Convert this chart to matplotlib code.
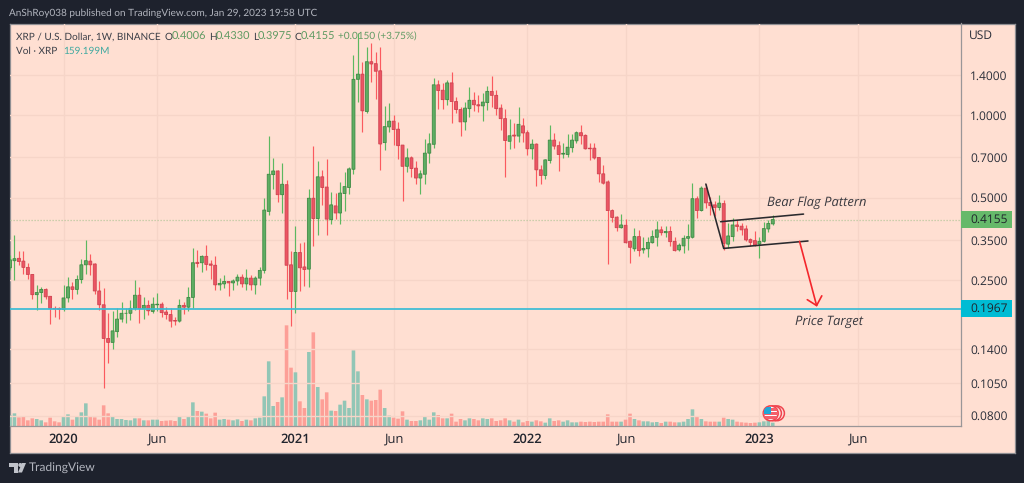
import matplotlib
matplotlib.use("Agg")
import matplotlib.pyplot as plt
from matplotlib.patches import Rectangle, Circle, Polygon
from matplotlib.transforms import IdentityTransform
import numpy as np

opens = [.277,.294,.300,.293,.278,.262,.221,.225,.231,.218,
 .197,.197,.195,.215,.236,.231,.251,.284,.293,.286,
 .228,.203,.153,.148,.162,.180,.189,.189,.197,.220,
 .197,.202,.192,.203,.204,.191,.187,.178,.177,.202,
 .199,.216,.290,.289,.305,.286,.283,.240,.242,.247,
 .244,.248,.256,.242,.254,.240,.254,.271,.445,.606,
 .625,.512,.557,.284,.227,.315,.279,.274,.497,.419,
 .595,.546,.415,.466,.439,.517,.544,.634,1.35,1.41,
 1.03,1.565,1.54,1.45,.793,.905,.95,.888,.777,.65,
 .698,.64,.589,.608,.726,.782,1.289,1.232,1.138,1.31,
 1.12,1.047,.944,1.055,1.132,1.09,1.08,1.11,1.22,1.18,
 1.06,.97,.802,.845,.838,.913,.862,.753,.783,.631,
 .602,.682,.81,.773,.72,.718,.76,.805,.862,.843,
 .757,.757,.70,.61,.57,.448,.424,.388,.396,.346,
 .325,.36,.322,.325,.342,.358,.381,.372,.376,.346,
 .322,.333,.355,.358,.495,.448,.541,.48,.47,.46,
 .475,.338,.36,.397,.393,.384,.351,.348,.338,.346,
 .384,.4006]
closes = [.296,.299,.292,.278,.262,.221,.225,.231,.217,.197,
 .196,.195,.215,.236,.231,.251,.284,.294,.284,.228,
 .203,.153,.148,.163,.180,.189,.189,.197,.220,.197,
 .202,.193,.204,.204,.190,.187,.177,.177,.202,.199,
 .216,.289,.287,.305,.285,.283,.240,.243,.247,.244,
 .248,.256,.242,.254,.240,.254,.271,.450,.608,.625,
 .512,.559,.283,.227,.315,.277,.273,.497,.419,.595,
 .544,.417,.470,.439,.519,.548,.636,1.35,1.41,1.036,
 1.565,1.536,1.445,.784,.907,.95,.885,.773,.65,.698,
 .638,.589,.61,.726,.785,1.289,1.228,1.138,1.31,1.12,
 1.047,.944,1.06,1.132,1.09,1.08,1.115,1.22,1.18,1.055,
 .97,.807,.84,.838,.925,.86,.753,.783,.631,.602,
 .686,.81,.77,.718,.725,.763,.81,.862,.84,.753,
 .753,.697,.61,.564,.448,.423,.388,.397,.342,.329,
 .36,.32,.326,.343,.36,.381,.372,.376,.345,.32,
 .335,.355,.36,.495,.448,.541,.478,.467,.46,.477,
 .34,.362,.397,.392,.381,.35,.343,.336,.346,.385,
 .402,.4155]
highs = [.309,.365,.320,.319,.288,.264,.240,.236,.233,.219,
 .201,.200,.239,.257,.245,.261,.298,.350,.312,.288,
 .248,.234,.189,.193,.197,.207,.197,.211,.251,.236,
 .216,.212,.216,.225,.208,.200,.197,.183,.213,.208,
 .236,.326,.323,.309,.335,.296,.305,.254,.260,.248,
 .253,.264,.262,.274,.260,.258,.278,.497,.835,.699,
 .631,.670,.580,.319,.392,.340,.345,.537,.771,.681,
 .631,.690,.523,.519,.568,.622,.645,1.655,1.993,1.56,
 1.767,1.827,1.70,1.776,1.08,1.11,1.00,.944,.78,.76,
 .706,.677,.631,.817,.86,1.362,1.343,1.314,1.343,1.431,
 1.168,1.073,1.118,1.265,1.215,1.18,1.2,1.278,1.39,1.235,
 1.10,1.052,.965,.936,1.073,.974,.883,.817,.79,.658,
 .691,.92,.862,.805,.79,.85,.85,.878,.916,.85,
 .79,.79,.70,.658,.577,.454,.428,.436,.416,.35,
 .386,.381,.36,.36,.381,.411,.395,.392,.395,.36,
 .34,.365,.40,.563,.507,.553,.56,.503,.487,.512,
 .49,.403,.42,.414,.403,.397,.355,.376,.358,.408,
 .414,.433]
lows = [.272,.250,.284,.264,.252,.214,.194,.206,.213,.173,
 .183,.180,.193,.207,.213,.222,.243,.262,.260,.222,
 .195,.101,.124,.140,.155,.176,.174,.179,.194,.174,
 .180,.187,.190,.192,.183,.180,.169,.172,.176,.188,
 .192,.197,.278,.268,.272,.253,.229,.230,.233,.219,
 .229,.240,.236,.230,.230,.222,.240,.266,.430,.536,
 .480,.439,.214,.170,.189,.227,.237,.236,.334,.365,
 .470,.365,.400,.417,.399,.445,.514,.610,1.118,.868,
 1.016,1.32,1.14,.631,.746,.87,.777,.694,.484,.622,
 .593,.56,.517,.56,.668,.757,1.055,1.055,1.09,.936,
 1.021,.84,.883,.98,1.035,1.025,.95,1.044,1.073,1.0,
 .883,.595,.752,.757,.80,.80,.713,.691,.552,.562,
 .586,.668,.75,.626,.697,.703,.732,.79,.783,.75,
 .686,.69,.57,.56,.285,.408,.377,.386,.34,.288,
 .318,.306,.314,.304,.34,.332,.365,.36,.333,.319,
 .319,.314,.322,.355,.42,.445,.456,.432,.428,.451,
 .322,.326,.348,.376,.365,.347,.333,.334,.302,.344,
 .374,.3975]
volumes = [32,38,26,29,17,23,21,17,11,25,14,11,29,35,19,27,41,68,30,26,
 19,62,38,29,21,21,18,17,23,23,17,17,19,19,15,16,17,15,29,21,
 29,71,45,43,37,23,40,19,21,19,17,20,15,19,17,23,25,89,194,60,
 72,86,302,175,161,74,54,222,281,117,80,101,46,45,64,76,54,227,164,93,
 80,76,78,109,54,31,25,22,44,19,15,15,17,29,19,41,33,23,23,37,
 13,21,17,23,21,17,23,21,23,15,17,23,17,13,19,11,15,13,17,14,
 10,23,15,17,13,17,11,11,13,12,13,12,13,13,35,13,13,13,19,37,
 21,17,14,14,11,12,9,13,13,11,11,13,21,50,27,21,14,13,13,13,
 25,21,19,13,11,10,9,10,11,14,17,10]

price_ticks = [1.4, 1.0, 0.7, 0.5, 0.35, 0.25, 0.14, 0.105, 0.08]
time_tick_pos = [12, 33, 64, 86, 116, 138, 168, 190]
time_tick_labels = ['2020', 'Jun', '2021', 'Jun', '2022', 'Jun', '2023', 'Jun']
last_price = 0.4155
target_price = 0.1967
flag_pole = ([156, 160], [0.560, 0.326])
flag_lower = ([160, 178.9], [0.326, 0.347])
flag_upper = ([159.3, 177.9], [0.408, 0.435])
target_arrow = ((177, 0.346), (180.9, 0.1997))

W, H = 1024, 483
DARK = '#1e222d'
BG = '#ffdfd2'
GRID = '#f6d5c8'
plt.rcParams['font.family'] = ['Open Sans', 'DejaVu Sans']
plt.rcParams['text.hinting'] = 'no_hinting'
plt.rcParams['text.hinting_factor'] = 1
LATO = ['Lato', 'DejaVu Sans']

fig = plt.figure(figsize=(W/100, H/100), dpi=100, facecolor=DARK)

def rect(l, t, r, b):
    return [l/W, 1-b/H, (r-l)/W, (b-t)/H]

def t(x, y, s, **kw):
    kw.setdefault('va', 'center')
    kw.setdefault('ha', 'left')
    return fig.text(x/W, 1-y/H, s, **kw)

bgax = fig.add_axes(rect(9.5, 23.5, 1015, 452.5), facecolor=BG, zorder=0)
bgax.set_xticks([]); bgax.set_yticks([])
for s in bgax.spines.values():
    s.set_color('#8f8f93'); s.set_linewidth(0.9)

pane = rect(9.5, 23.5, 961, 426)
vol_ax = fig.add_axes(pane, zorder=1)
ax = fig.add_axes(pane, zorder=2)
ax.patch.set_visible(False)
vol_ax.patch.set_visible(False)

x = np.arange(len(closes))
o, c, hi, lo, v = map(np.array, (opens, closes, highs, lows, volumes))
up = c >= o
xlim = (-0.11, 213.2)

vol_bars = vol_ax.bar(x, v, width=0.8, color=np.where(up, '#92c6b6', '#fd9f97'), linewidth=0)
for b in vol_bars:
    b.set_snap(False)
vol_ax.set_xlim(*xlim)
vol_ax.set_ylim(0, 1207.5)
vol_ax.set_yticks([])
vol_ax.set_xticks(time_tick_pos)
vol_ax.set_xticklabels([])
vol_ax.tick_params(length=0)
vol_ax.grid(axis='x', color=GRID, lw=1)
vol_ax.set_axisbelow(True)
for s in vol_ax.spines.values():
    s.set_visible(False)

ax.set_yscale('log')
ax.set_xlim(*xlim)
ax.set_ylim(0.0733, 2.158)
ax.vlines(x[up], lo[up], hi[up], color='#5cb860', lw=0.85, zorder=3)
ax.vlines(x[~up], lo[~up], hi[~up], color='#fb5a5f', lw=0.85, zorder=3)
bot = np.minimum(o, c)
top = np.maximum(o, c)
for mask, face, edge in ((up, '#5fae63', '#3d8a44'), (~up, '#ec5563', '#cf4250')):
    bars = ax.bar(x[mask], (top-bot)[mask], bottom=bot[mask], width=0.66, color=face, edgecolor=edge, lw=0.6, zorder=4)
    for b in bars:
        b.set_snap(False)

ax.minorticks_off()
ax.yaxis.tick_right()
ax.set_yticks(price_ticks)
ax.set_yticklabels([f'{p:.4f}' for p in price_ticks], fontsize=8.8, color='#2a2e39')
ax.yaxis.set_minor_locator(matplotlib.ticker.NullLocator())
ax.set_xticks(time_tick_pos)
ax.set_xticklabels(time_tick_labels, fontsize=9)
for lab, txt in zip(ax.get_xticklabels(), time_tick_labels):
    lab.set_fontweight('semibold' if txt != 'Jun' else 'normal')
    lab.set_color('#22252e')
ax.tick_params(axis='y', length=0, pad=6.5)
ax.tick_params(axis='x', length=0, pad=5)
ax.grid(axis='y', color=GRID, lw=1, zorder=0)
ax.set_axisbelow(True)
for name, s in ax.spines.items():
    s.set_visible(name in ('right', 'bottom'))
    s.set_color('#9a9698'); s.set_linewidth(0.9)

ax.axhline(last_price, color='#bcc99f', lw=0.9, ls=(0, (1, 1.4)), zorder=2)
ax.axhline(target_price, color='#3bbcd5', lw=1.25, zorder=5)

for xs, ys in (flag_pole, flag_lower, flag_upper):
    ax.plot(xs, ys, color='#2a2a2e', lw=1.15, zorder=6, solid_capstyle='round')
ax.annotate('', xy=target_arrow[1], xytext=target_arrow[0],
            arrowprops=dict(arrowstyle='->,head_length=5.8,head_width=5.4', color='#f4262c', lw=1.2,
                            shrinkA=0, shrinkB=0, mutation_scale=1), zorder=6)
t(817, 204, 'Bear Flag Pattern', fontsize=9.1, style='italic', color='#3a3a40', ha='center', zorder=7)
t(829, 322, 'Price Target', fontsize=9.1, style='italic', color='#3a3a40', ha='center', zorder=7)

for top_y, bot_y, col, label in ((211, 227.5, '#66b96a', '0.4155'), (300, 316.8, '#00bcd4', '0.1967')):
    fig.patches.append(Rectangle((961, H-bot_y), 51, bot_y-top_y, transform=IdentityTransform(), facecolor=col, edgecolor='none', zorder=8))
    t(970, (top_y+bot_y)/2, label, fontsize=8.8, color='#20242c', zorder=9)

t(969, 35.5, 'USD', fontsize=8.8, color='#2a2e39', zorder=9)

t(9, 13.5, 'AnShRoy038 published on TradingView.com, Jan 29, 2023 19:58 UTC', fontsize=7.0, color='#b2b5be', family=LATO, zorder=9)
DK = '#3c3f48'
GR = '#5f9a62'
FS = 6.9
t(15.7, 36.7, 'XRP / U.S. Dollar, 1W, BINANCE', fontsize=FS, color=DK, family=LATO, zorder=9)
for lx, lab, vx, val in ((165, 'O', 171.5, '0.4006'), (209, 'H', 215.5, '0.4330'),
                         (253, 'L', 258, '0.3975'), (294.5, 'C', 301, '0.4155')):
    t(lx, 36.7, lab, fontsize=FS, color=DK, family=LATO, zorder=9)
    t(vx, 36.7, val, fontsize=8.0, color=GR, family=LATO, zorder=9)
t(338, 36.7, '+0.0150 (+3.75%)', fontsize=7.3, color=GR, family=LATO, zorder=9)
t(16, 51, 'Vol · XRP', fontsize=7.0, color=DK, family=LATO, zorder=9)
t(63.5, 51, '159.199M', fontsize=7.0, color='#3fa9a0', family=LATO, zorder=9)

for cx in (777, 774):
    fig.patches.append(Circle((cx, H-413.3), 7.4, transform=IdentityTransform(), facecolor='#fde3dc', edgecolor='#f0444e', lw=1.1, zorder=8))
cx = 770.7
circ = Circle((cx, H-413.3), 7.4, transform=IdentityTransform(), facecolor='white', edgecolor='#f0444e', lw=1.2, zorder=9)
fig.patches.append(circ)
for sy in (409.5, 413.5, 417.5):
    r = Rectangle((cx-8, H-sy-1.1), 16, 2.2, transform=IdentityTransform(), facecolor='#f4606a', edgecolor='none', zorder=10)
    fig.patches.append(r); r.set_clip_path(circ)
r = Rectangle((cx-7, H-414), 7.5, 7.5, transform=IdentityTransform(), facecolor='#1fa8d8', edgecolor='none', zorder=11)
fig.patches.append(r); r.set_clip_path(circ)

LOGO = '#c0c3ca'
def P(pts):
    return [(px_, H-py_) for px_, py_ in pts]
fig.patches.append(Polygon(P([(9, 463), (18, 463), (18, 472.5), (13.5, 472.5), (13.5, 467), (9, 467)]), transform=IdentityTransform(), facecolor=LOGO, edgecolor='none', zorder=9))
fig.patches.append(Circle((20.3, H-465), 2, transform=IdentityTransform(), facecolor=LOGO, edgecolor='none', zorder=9))
fig.patches.append(Polygon(P([(22, 463), (26, 463), (22, 472.5), (18, 472.5)]), transform=IdentityTransform(), facecolor=LOGO, edgecolor='none', zorder=9))
t(29, 468, 'TradingView', fontsize=8.3, color='#b2b5be', family=LATO, zorder=9)

fig.savefig('out.png', dpi=100, facecolor=DARK)
